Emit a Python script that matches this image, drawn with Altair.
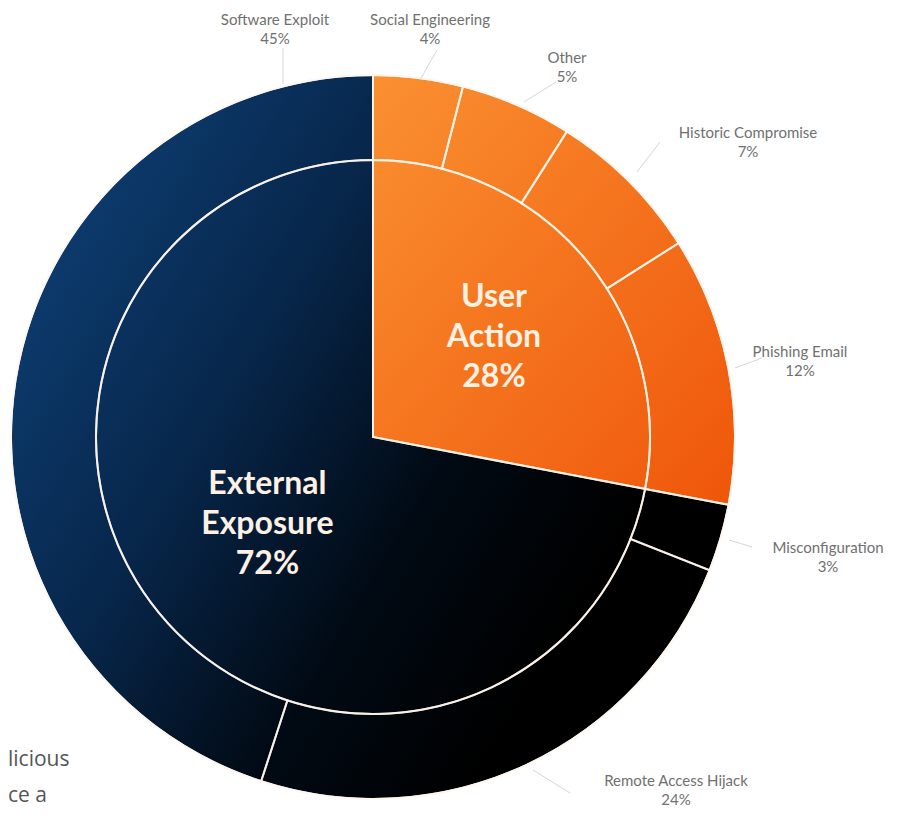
import altair as alt
import pandas as pd

# ---- data ----
groups = ["User Action", "External Exposure"]
group_pct = [28, 72]
subcats = ["Social Engineering", "Other", "Historic Compromise", "Phishing Email",
           "Misconfiguration", "Remote Access Hijack", "Software Exploit"]
sub_pct = [4, 5, 7, 12, 3, 24, 45]

# ---- layout (page pixels) ----
M = 8
CX, CY = 373 - M, 437 - M
R_OUT, R_IN = 361, 277
group_label_r = [157, 137]
label_pos = {  # position of the first (name) line of outer labels
    "Software Exploit": (275, 20), "Social Engineering": (430, 20), "Other": (567, 58),
    "Historic Compromise": (748, 133), "Phishing Email": (800, 352),
    "Misconfiguration": (828, 548), "Remote Access Hijack": (676, 781),
}
leaders = {
    "Software Exploit": (283, 84, 283, 48), "Social Engineering": (420, 80, 437, 50),
    "Other": (524, 102, 556, 82), "Historic Compromise": (637, 172, 660, 142),
    "Phishing Email": (735, 368, 762, 358), "Misconfiguration": (729, 540, 752, 547),
    "Remote Access Hijack": (533, 770, 570, 793),
}

gdf = pd.DataFrame({"group": groups, "value": group_pct, "idx": range(len(groups)),
                    "lr": group_label_r})
gdf["label"] = [g.replace(" ", "\n") + f"\n{v}%" for g, v in zip(groups, group_pct)]
sdf = pd.DataFrame({"sub": subcats, "value": sub_pct, "idx": range(len(subcats))})
sdf["label"] = [f"{s}\n{v}%" for s, v in zip(subcats, sub_pct)]
sdf["lx"] = [label_pos[s][0] - M for s in subcats]
sdf["ly"] = [label_pos[s][1] - M for s in subcats]
sdf["x1"] = [leaders[s][0] - M for s in subcats]
sdf["y1"] = [leaders[s][1] - M for s in subcats]
sdf["x2"] = [leaders[s][2] - M for s in subcats]
sdf["y2"] = [leaders[s][3] - M for s in subcats]

orange = alt.LinearGradient(gradient="linear", x1=0, y1=0, x2=1, y2=1, stops=[
    alt.GradientStop(offset=0, color="#fa9031"),
    alt.GradientStop(offset=1, color="#ef560a")])
navy = alt.LinearGradient(gradient="linear", x1=0, y1=0.35, x2=0.75, y2=0.8, stops=[
    alt.GradientStop(offset=0, color="#0c3a6c"),
    alt.GradientStop(offset=0.35, color="#07264a"),
    alt.GradientStop(offset=0.7, color="#010a14"),
    alt.GradientStop(offset=1, color="#000000")])

theta_scale = alt.Scale(domain=[0, 100])

base_g = alt.Chart(gdf).encode(
    theta=alt.Theta("value:Q", stack=True, scale=theta_scale),
    order=alt.Order("idx:Q"),
)
base_s = alt.Chart(sdf).encode(
    theta=alt.Theta("value:Q", stack=True, scale=theta_scale),
    order=alt.Order("idx:Q"),
)

fill_layer = base_g.mark_arc(x=CX, y=CY, radius=R_OUT, radius2=0).encode(
    fill=alt.condition(alt.datum.group == "User Action", alt.value(orange), alt.value(navy))
)
outer_sep = base_s.mark_arc(x=CX, y=CY, radius=R_OUT + 1, radius2=R_IN, fillOpacity=0,
                            stroke="#fff6ec", strokeOpacity=0.85, strokeWidth=2).encode(
    fill=alt.value("white"))
inner_sep = base_g.mark_arc(x=CX, y=CY, radius=R_IN, radius2=0, fillOpacity=0,
                            stroke="#fff6ec", strokeOpacity=0.85, strokeWidth=2).encode(
    fill=alt.value("white"))

center_text = alt.Chart(gdf).transform_stack(
    stack="value", groupby=[], as_=["t0", "t1"], sort=[alt.SortField("idx")]
).transform_calculate(
    mid="(datum.t0 + datum.t1) / 2"
).mark_text(x=CX, y=CY, font="Lato", fontWeight="bold", fontSize=32,
            lineBreak="\n", lineHeight=40, dy=-40, color="#fdf1e4",
            align="center", baseline="middle").encode(
    theta=alt.Theta("mid:Q", stack=None, scale=theta_scale),
    radius=alt.Radius("lr:Q", scale=None),
    text="label:N",
)

leader_layer = alt.Chart(sdf).mark_rule(color="#d6d6d6", strokeWidth=1).encode(
    x=alt.X("x1:Q", scale=None, axis=None), y=alt.Y("y1:Q", scale=None, axis=None),
    x2="x2:Q", y2="y2:Q",
)
label_layer = alt.Chart(sdf).mark_text(font="Lato", fontSize=15, color="#707070",
                                       lineBreak="\n", lineHeight=19,
                                       align="center", baseline="middle").encode(
    x=alt.X("lx:Q", scale=None, axis=None), y=alt.Y("ly:Q", scale=None, axis=None),
    text="label:N",
)

# fragment of surrounding page text
side_df = pd.DataFrame({"t": ["licious", "ce a"], "x": [0, 0], "y": [760 - M, 796 - M]})
side_text = alt.Chart(side_df).mark_text(font="Open Sans", fontSize=21, color="#555555",
                                         align="left", baseline="middle").encode(
    x=alt.X("x:Q", scale=None, axis=None), y=alt.Y("y:Q", scale=None, axis=None), text="t:N")

chart = alt.layer(fill_layer, outer_sep, inner_sep, center_text, leader_layer,
                  label_layer, side_text).properties(
    width=897, height=802, padding=0, autosize="none"
).configure_view(stroke=None)

chart.save("out.html", embed_options={"renderer": "svg", "actions": False})
